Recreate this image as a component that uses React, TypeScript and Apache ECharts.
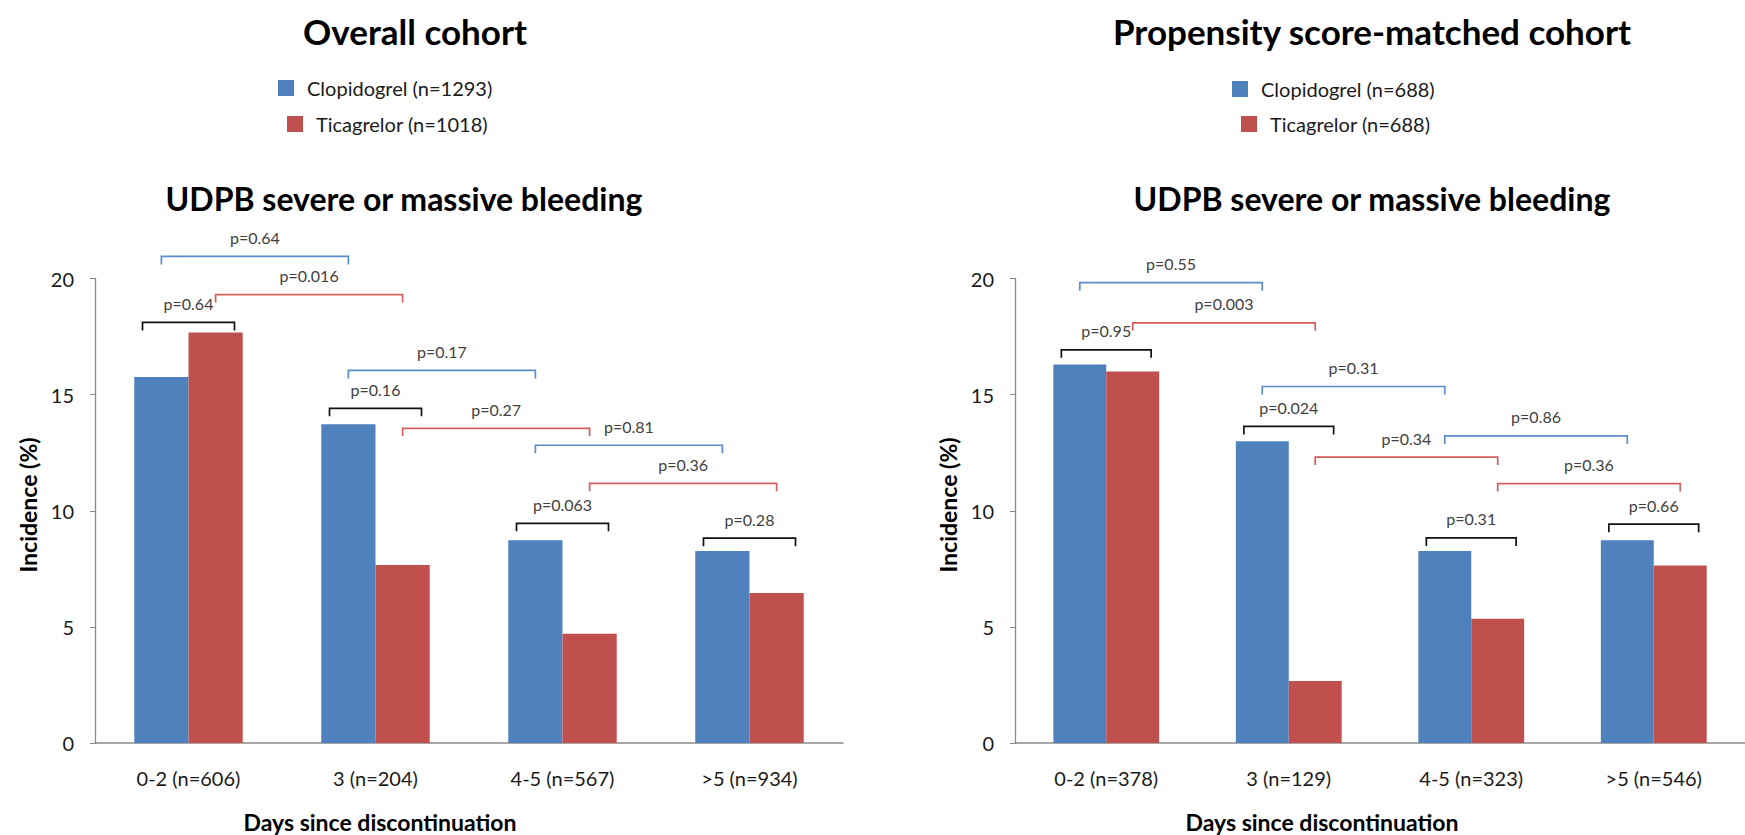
import React, { useEffect, useRef } from 'react';
import * as echarts from 'echarts';

const FONT = 'Lato, "Noto Sans", sans-serif';

// ---- data ----
const panelTitles = ['Overall cohort', 'Propensity score-matched cohort'];
const panelSubtitles = ['UDPB severe or massive bleeding', 'UDPB severe or massive bleeding'];
const legendOverall = ['Clopidogrel (n=1293)', 'Ticagrelor (n=1018)'];
const legendMatched = ['Clopidogrel (n=688)', 'Ticagrelor (n=688)'];
const xAxisTitle = 'Days since discontinuation';
const yAxisTitle = 'Incidence (%)';

const categoriesOverall = ['0-2 (n=606)', '3 (n=204)', '4-5 (n=567)', '>5 (n=934)'];
const categoriesMatched = ['0-2 (n=378)', '3 (n=129)', '4-5 (n=323)', '>5 (n=546)'];

const clopidogrelOverall = [15.76, 13.72, 8.73, 8.27];
const ticagrelorOverall = [17.68, 7.66, 4.7, 6.46];
const clopidogrelMatched = [16.3, 12.99, 8.27, 8.73];
const ticagrelorMatched = [16.0, 2.67, 5.35, 7.64];

const yTicks = [0, 5, 10, 15, 20];

// bracket: [kind, category index, level (%), label]
// within = clopidogrel vs ticagrelor in same category; clopi / tica = consecutive categories
const bracketsOverall: [string, number, number, string][] = [
  ['within', 0, 18.11, 'p=0.64'],
  ['clopi', 0, 20.95, 'p=0.64'],
  ['tica', 0, 19.31, 'p=0.016'],
  ['within', 1, 14.41, 'p=0.16'],
  ['clopi', 1, 16.04, 'p=0.17'],
  ['tica', 1, 13.55, 'p=0.27'],
  ['within', 2, 9.46, 'p=0.063'],
  ['clopi', 2, 12.82, 'p=0.81'],
  ['tica', 2, 11.18, 'p=0.36'],
  ['within', 3, 8.82, 'p=0.28'],
];
const bracketsMatched: [string, number, number, string][] = [
  ['within', 0, 16.93, 'p=0.95'],
  ['clopi', 0, 19.82, 'p=0.55'],
  ['tica', 0, 18.09, 'p=0.003'],
  ['within', 1, 13.63, 'p=0.024'],
  ['clopi', 1, 15.35, 'p=0.31'],
  ['tica', 1, 12.31, 'p=0.34'],
  ['within', 2, 8.83, 'p=0.31'],
  ['clopi', 2, 13.22, 'p=0.86'],
  ['tica', 2, 11.17, 'p=0.36'],
  ['within', 3, 9.42, 'p=0.66'],
];

const BLUE = '#4F81BD';
const RED = '#C0504D';
const BR_COLORS: Record<string, string> = { within: '#111111', clopi: '#5B8CCB', tica: '#D2605E' };
const AXIS_GRAY = '#8A8A8A';

function bracketSeries(brackets: [string, number, number, string][], idx: number) {
  return {
    type: 'custom',
    xAxisIndex: idx,
    yAxisIndex: idx,
    clip: false,
    silent: true,
    z: 5,
    data: brackets.map((b) => [b[1], b[2]]),
    encode: { x: 0, y: 1 },
    renderItem: (params: any, api: any) => {
      const b = brackets[params.dataIndex];
      const kind = b[0];
      const band = api.size([1, 0])[0];
      const p = api.coord([api.value(0), api.value(1)]);
      let x1: number, x2: number;
      if (kind === 'within') {
        x1 = p[0] - 0.246 * band;
        x2 = p[0] + 0.246 * band;
      } else {
        const off = kind === 'clopi' ? -0.145 * band : 0.145 * band;
        x1 = p[0] + off;
        x2 = p[0] + band + off;
      }
      const y = p[1];
      const color = BR_COLORS[kind];
      return {
        type: 'group',
        children: [
          {
            type: 'polyline',
            shape: { points: [[x1, y + 8], [x1, y], [x2, y], [x2, y + 8]] },
            style: { stroke: color, lineWidth: 1.7, fill: 'none' },
          },
          {
            type: 'text',
            x: (x1 + x2) / 2,
            y: y - 19,
            style: {
              text: b[3],
              fill: '#3F3F3F',
              fontSize: 16,
              fontFamily: FONT,
              align: 'center',
              verticalAlign: 'middle',
            },
          },
        ],
      };
    },
  };
}

function text(t: string, x: number, y: number, size: number, bold: boolean, extra: any = {}) {
  return {
    type: 'text',
    x,
    y,
    ...extra,
    style: {
      text: t,
      fill: '#000',
      fontSize: size,
      fontWeight: bold ? 'bold' : 'normal',
      fontFamily: FONT,
      align: 'center',
      verticalAlign: 'middle',
    },
  };
}

function legendLine(label: string, color: string, left: number, cy: number) {
  return [
    { type: 'rect', shape: { x: left, y: cy - 8, width: 16, height: 16 }, style: { fill: color } },
    {
      type: 'text',
      x: left + 29,
      y: cy,
      style: {
        text: label,
        fill: '#1a1a1a',
        fontSize: 20,
        fontFamily: FONT,
        align: 'left',
        verticalAlign: 'middle',
      },
    },
  ];
}

export default function App() {
  const ref = useRef<HTMLDivElement>(null);
  useEffect(() => {
    if (!ref.current) return;
    const chart = echarts.init(ref.current, undefined, { renderer: 'svg' });
    const grids = [
      { left: 95, width: 748, top: 278.5, bottom: 92 },
      { left: 1015, width: 748, top: 278.5, bottom: 92 },
    ];
    const xAxes = [categoriesOverall, categoriesMatched].map((cats, i) => ({
      type: 'category',
      gridIndex: i,
      data: cats,
      axisLine: { show: true, lineStyle: { color: AXIS_GRAY, width: 1.5 } },
      axisTick: { show: false },
      axisLabel: { color: '#1a1a1a', fontSize: 20, fontFamily: FONT, margin: 25 },
    }));
    const yAxes = [0, 1].map((i) => ({
      type: 'value',
      gridIndex: i,
      min: yTicks[0],
      max: yTicks[yTicks.length - 1],
      interval: yTicks[1] - yTicks[0],
      axisLine: { show: true, lineStyle: { color: AXIS_GRAY, width: 1.3 } },
      axisTick: { show: true, length: 5, lineStyle: { color: AXIS_GRAY } },
      splitLine: { show: false },
      axisLabel: { color: '#1a1a1a', fontSize: 20, fontFamily: FONT, margin: 21 },
    }));
    const barCommon = { type: 'bar', barGap: '0%', barCategoryGap: '42%' };
    chart.setOption({
      animation: false,
      backgroundColor: '#fff',
      grid: grids,
      xAxis: xAxes,
      yAxis: yAxes,
      series: [
        { ...barCommon, name: legendOverall[0], xAxisIndex: 0, yAxisIndex: 0, data: clopidogrelOverall, itemStyle: { color: BLUE } },
        { ...barCommon, name: legendOverall[1], xAxisIndex: 0, yAxisIndex: 0, data: ticagrelorOverall, itemStyle: { color: RED } },
        { ...barCommon, name: legendMatched[0], xAxisIndex: 1, yAxisIndex: 1, data: clopidogrelMatched, itemStyle: { color: BLUE } },
        { ...barCommon, name: legendMatched[1], xAxisIndex: 1, yAxisIndex: 1, data: ticagrelorMatched, itemStyle: { color: RED } },
        bracketSeries(bracketsOverall, 0),
        bracketSeries(bracketsMatched, 1),
      ],
      graphic: [
        text(panelTitles[0], 415, 31, 35, true),
        text(panelTitles[1], 1372, 31, 35, true),
        ...legendLine(legendOverall[0], BLUE, 278, 88),
        ...legendLine(legendOverall[1], RED, 287, 124),
        ...legendLine(legendMatched[0], BLUE, 1232, 89),
        ...legendLine(legendMatched[1], RED, 1241, 124),
        text(panelSubtitles[0], 404, 198, 32, true),
        text(panelSubtitles[1], 1372, 198, 32, true),
        text(xAxisTitle, 380, 822, 23, true),
        text(xAxisTitle, 1322, 822, 23, true),
        text(yAxisTitle, 28, 505, 23, true, { rotation: Math.PI / 2 }),
        text(yAxisTitle, 948, 505, 23, true, { rotation: Math.PI / 2 }),
      ],
    });
    return () => chart.dispose();
  }, []);
  return (
    <div
      ref={ref}
      style={{ position: 'fixed', left: 0, top: 0, width: 1745, height: 835, background: '#fff' }}
    />
  );
}
